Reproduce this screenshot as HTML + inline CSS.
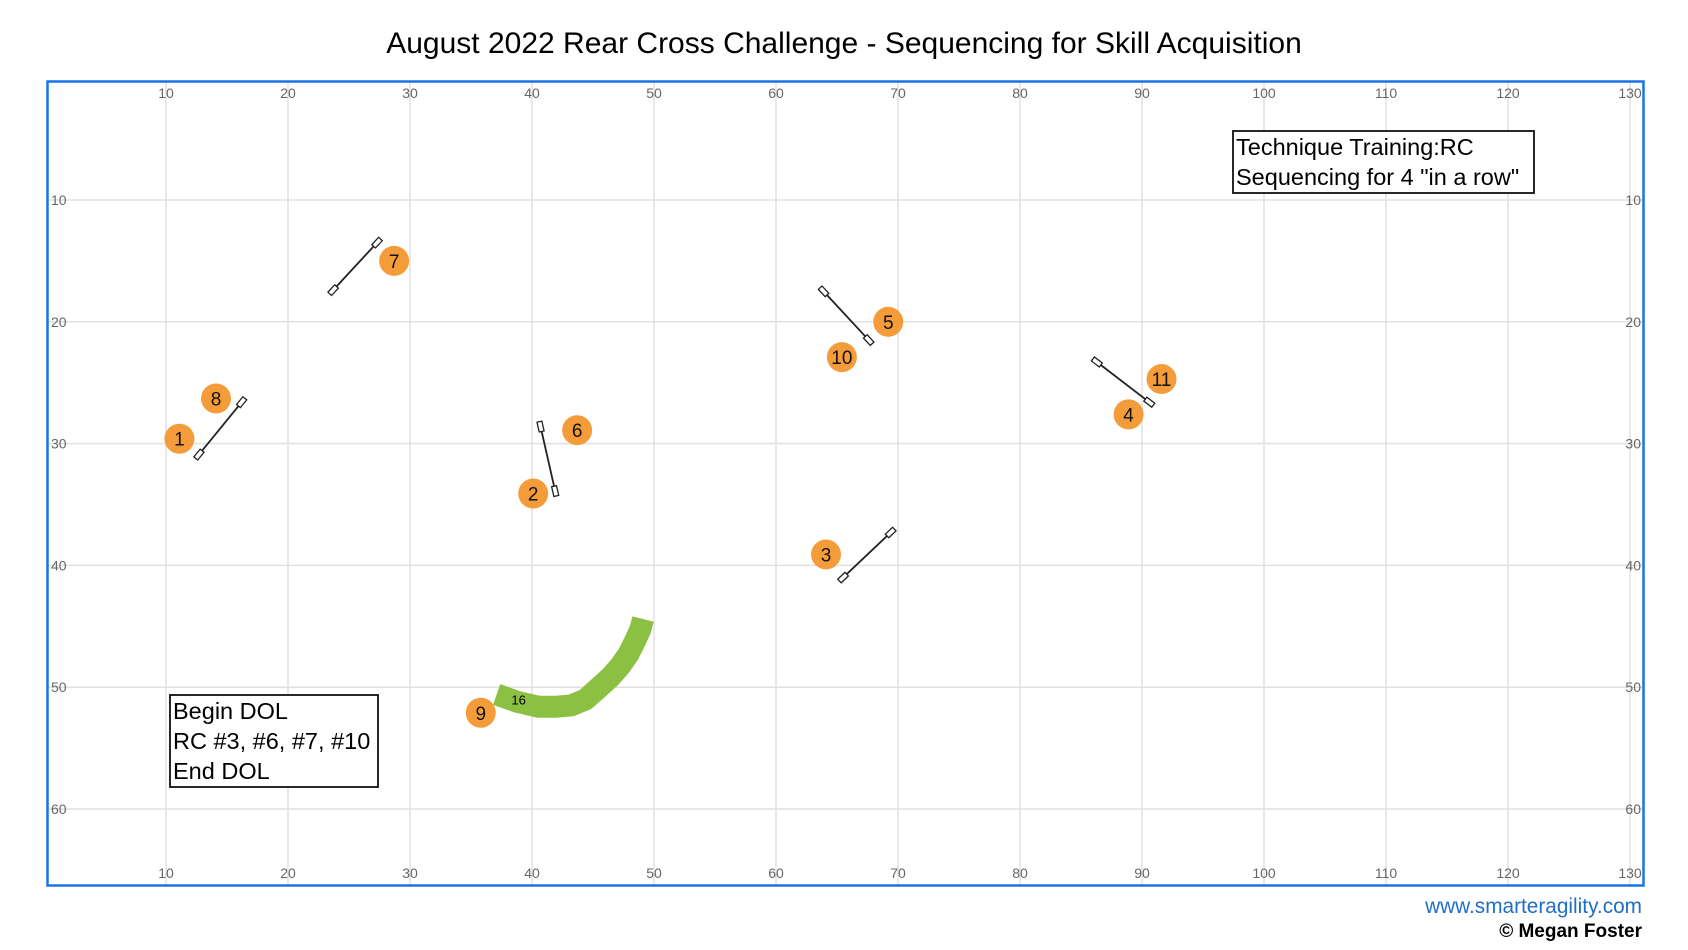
<!DOCTYPE html>
<html><head><meta charset="utf-8"><style>
body{margin:0;background:#fff;}
svg{display:block;font-family:"Liberation Sans",Arial,sans-serif;}
</style></head><body>
<svg id="c" width="1688" height="950"></svg>
<script>
const xTicks=[10,20,30,40,50,60,70,80,90,100,110,120,130];
const yTicks=[10,20,30,40,50,60];
const numLabels=["1","8","7","6","2","5","10","3","4","11","9"];
const numX=[11.1,14.1,28.7,43.7,40.1,69.2,65.4,64.1,88.9,91.6,35.8];
const numY=[29.6,26.3,15.0,28.9,34.1,20.0,22.9,39.1,27.6,24.7,52.1];
const jumpX1=[12.7,23.7,40.7,63.9,65.5,86.3];
const jumpY1=[30.9,17.4,28.6,17.5,41.0,23.3];
const jumpX2=[16.2,27.3,41.9,67.6,69.4,90.6];
const jumpY2=[26.6,13.5,33.9,21.5,37.3,26.6];
const tunnelX=[37.1,38.8,40.5,42.0,43.2,44.4,45.4,46.4,47.2,47.9,48.5,48.9,49.1];
const tunnelY=[50.6,51.2,51.6,51.6,51.5,51.0,50.1,49.2,48.3,47.3,46.1,45.2,44.4];
const NS="http://www.w3.org/2000/svg";
const svg=document.getElementById('c');
const sx=v=>166+(v-10)*12.2, sy=v=>200+(v-10)*12.18;
function mk(t,a,p){const e=document.createElementNS(NS,t);for(const k in a)e.setAttribute(k,a[k]);(p||svg).appendChild(e);return e;}
function tx(s,a){const e=mk('text',a);e.textContent=s;return e;}
let t=tx('August 2022 Rear Cross Challenge - Sequencing for Skill Acquisition',{x:844,y:53,'text-anchor':'middle','font-size':30,fill:'#000'});

const g=mk('g',{});
xTicks.forEach(v=>{mk('line',{x1:sx(v),x2:sx(v),y1:82,y2:885,stroke:'#e0e0e0','stroke-width':1.5},g);
 let a=tx(v,{x:sx(v),y:98,'text-anchor':'middle','font-size':14,fill:'#666'});
 let b=tx(v,{x:sx(v),y:878,'text-anchor':'middle','font-size':14,fill:'#666'});});
yTicks.forEach(v=>{mk('line',{x1:48,x2:1643,y1:sy(v),y2:sy(v),stroke:'#e0e0e0','stroke-width':1.5},g);
 let a=tx(v,{x:51,y:sy(v)+5,'font-size':14,fill:'#666'});
 let b=tx(v,{x:1641,y:sy(v)+5,'text-anchor':'end','font-size':14,fill:'#666'});});
let fr=mk('rect',{x:47.5,y:81.5,width:1596,height:804,fill:'none',stroke:'#1a73e8','stroke-width':2.5});

let pts=tunnelX.map((v,i)=>sx(v)+','+sy(tunnelY[i])).join(' ');
let tun=mk('polyline',{points:pts,fill:'none',stroke:'#8cc043','stroke-width':22,'stroke-linejoin':'round'});

let tl=tx('16',{x:sx(38.9),y:sy(51.0)+5,'text-anchor':'middle','font-size':13,fill:'#000'});

jumpX1.forEach((v,i)=>{const x1=sx(v),y1=sy(jumpY1[i]),x2=sx(jumpX2[i]),y2=sy(jumpY2[i]);
 const jg=mk('g',{});
 mk('line',{x1,y1,x2,y2,stroke:'#222','stroke-width':1.8},jg);
 const ang=Math.atan2(y2-y1,x2-x1)*180/Math.PI;
 [[x1,y1],[x2,y2]].forEach(p=>mk('rect',{x:-5,y:-2.5,width:10,height:5,fill:'#fff',stroke:'#222','stroke-width':1.3,transform:`translate(${p[0]},${p[1]}) rotate(${ang})`},jg));});
numLabels.forEach((s,i)=>{const ng=mk('g',{});
 mk('circle',{cx:sx(numX[i]),cy:sy(numY[i]),r:15,fill:'#f59c3a'},ng);
 const e=mk('text',{x:sx(numX[i]),y:sy(numY[i])+7,'text-anchor':'middle','font-size':19,fill:'#111'},ng);e.textContent=s;});
function box(x,y,w,h,lines,name){const bg=mk('g',{});
 mk('rect',{x,y,width:w,height:h,fill:'#fff',stroke:'#111','stroke-width':1.8},bg);
 lines.forEach((l,i)=>{const e=mk('text',{x:x+3,y:y+24+i*30,'font-size':23.5,fill:'#000'},bg);e.textContent=l;});}
box(1233,131,301,62,['Technique Training:RC','Sequencing for 4 "in a row"'],'info-box-technique');
box(170,695,208,92,['Begin DOL','RC #3, #6, #7, #10','End DOL'],'info-box-dol');
let f1=tx('www.smarteragility.com',{x:1642,y:913,'text-anchor':'end','font-size':20.8,fill:'#1f6fc5'});

let f2=tx('© Megan Foster',{x:1642,y:937,'text-anchor':'end','font-size':19,'font-weight':'bold',fill:'#000'});

</script>
</body></html>
